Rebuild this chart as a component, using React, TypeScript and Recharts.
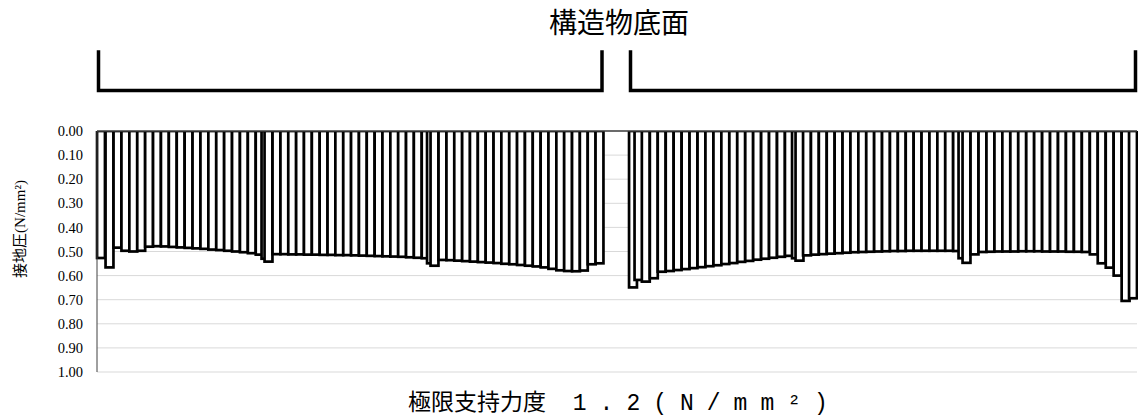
import React from 'react';
import { BarChart, Bar, XAxis, YAxis, CartesianGrid, ReferenceLine } from 'recharts';

// 構造物1 (左側): 測点 [m] と接地圧 [N/mm2]
const stationsA = [
  0.40, 1.25,
  2.05, 2.84, 3.63, 4.42, 5.21, 6.00, 6.79, 7.58, 8.37, 9.16, 9.95, 10.74, 11.53, 12.32, 13.11, 13.90, 14.69, 15.48, 16.27,
  16.85, 17.15,
  17.95, 18.74, 19.52, 20.31, 21.09, 21.88, 22.66, 23.45, 24.23, 25.02, 25.80, 26.59, 27.37, 28.16, 28.94, 29.73, 30.51, 31.30, 32.08, 32.87,
  33.40, 33.75,
  34.55, 35.34, 36.12, 36.91, 37.69, 38.48, 39.26, 40.05, 40.83, 41.62, 42.40, 43.19, 43.97, 44.76, 45.54, 46.33, 47.11, 47.90, 48.68, 49.47, 50.25,
];
const pressureA = [
  0.527, 0.566,
  0.484, 0.497, 0.500, 0.497, 0.480, 0.478, 0.479, 0.481, 0.483, 0.485, 0.487, 0.489, 0.492, 0.494, 0.497, 0.500, 0.503, 0.507, 0.513,
  0.530, 0.542,
  0.511, 0.511, 0.512, 0.512, 0.513, 0.513, 0.514, 0.514, 0.515, 0.515, 0.516, 0.517, 0.518, 0.519, 0.520, 0.521, 0.522, 0.524, 0.526, 0.528,
  0.549, 0.559,
  0.535, 0.536, 0.538, 0.540, 0.542, 0.544, 0.546, 0.548, 0.551, 0.553, 0.556, 0.559, 0.562, 0.566, 0.572, 0.578, 0.581, 0.582, 0.579, 0.553, 0.549,
];

// 構造物2 (右側)
const stationsB = [
  53.60, 54.15,
  54.88, 55.68, 56.47, 57.27, 58.06, 58.86, 59.65, 60.45, 61.24, 62.04, 62.83, 63.63, 64.42, 65.22, 66.01, 66.81, 67.60, 68.40, 69.19,
  69.90, 70.25,
  71.00, 71.79, 72.58, 73.37, 74.16, 74.95, 75.74, 76.53, 77.32, 78.11, 78.90, 79.69, 80.48, 81.27, 82.06, 82.85, 83.64, 84.43, 85.22, 86.01,
  86.55, 86.95,
  87.75, 88.55, 89.34, 90.14, 90.93, 91.73, 92.52, 93.32, 94.11, 94.91, 95.70, 96.50, 97.29, 98.09, 98.88, 99.68, 100.47, 101.27, 102.06, 102.86,
  103.60,
];
const pressureB = [
  0.649, 0.618,
  0.625, 0.611, 0.584, 0.581, 0.577, 0.573, 0.569, 0.565, 0.561, 0.557, 0.552, 0.548, 0.543, 0.539, 0.534, 0.530, 0.526, 0.522, 0.518,
  0.528, 0.538,
  0.516, 0.513, 0.511, 0.509, 0.507, 0.505, 0.503, 0.502, 0.501, 0.500, 0.499, 0.498, 0.498, 0.497, 0.497, 0.497, 0.497, 0.497, 0.497, 0.498,
  0.528, 0.547,
  0.512, 0.502, 0.501, 0.500, 0.500, 0.500, 0.499, 0.499, 0.499, 0.500, 0.500, 0.500, 0.501, 0.501, 0.502, 0.512, 0.549, 0.567, 0.600, 0.705,
  0.694,
];

const yTicks = [0, 0.1, 0.2, 0.3, 0.4, 0.5, 0.6, 0.7, 0.8, 0.9, 1.0];

const TITLE = '構造物底面';
const X_LABEL_JP = '極限支持力度';
const X_LABEL_VALUE = ' 1.2(N/mm²)';
const Y_LABEL = '接地圧(N/mm²)';

const CHART_W = 1138;
const CHART_H = 419;
const MARGIN = { top: 131, right: 1, bottom: 47, left: 37 };
const Y_AXIS_W = 60;
const X_MAX = 104;
const PX_PER_M = (CHART_W - MARGIN.left - Y_AXIS_W - MARGIN.right) / X_MAX;
const BAR_W = 0.79; // m
const BRACKET_PAD = 0.25;
const BRACKET_TOP = -0.335;
const BRACKET_BOTTOM = -0.168;

const data = [
  ...stationsA.map((s, i) => ({ station: s, pressure: pressureA[i] })),
  ...stationsB.map((s, i) => ({ station: s, pressure: pressureB[i] })),
];

const spanA = [Math.min(...stationsA) - BRACKET_PAD, Math.max(...stationsA) + BRACKET_PAD];
const spanB = [Math.min(...stationsB) - BRACKET_PAD, Math.max(...stationsB) + BRACKET_PAD];

// bars hang down from 0 (reversed axis), fixed width centred on the station
const HangingBar = (props: any) => {
  const { x, y, width, height } = props;
  if (x == null || y == null) return null;
  const cx = x + width / 2;
  const w = BAR_W * PX_PER_M;
  const top = Math.min(y, y + height);
  const h = Math.abs(height);
  return <rect x={cx - w / 2} y={top} width={w} height={h} fill="#fff" stroke="#000" strokeWidth={2.7} />;
};

const Bracket = (props: any) => {
  const { x1, y1, x2, y2 } = props;
  return (
    <path
      d={`M${x1},${y1} V${y2} H${x2} V${y1}`}
      fill="none"
      stroke="#000"
      strokeWidth={3.5}
    />
  );
};

export default function App() {
  return (
    <div style={{ position: 'absolute', left: 0, top: 0, width: CHART_W, height: CHART_H, background: '#fff' }}>
      <BarChart
        width={CHART_W}
        height={CHART_H}
        data={data}
        margin={MARGIN}
        barCategoryGap={0}
        barGap={0}
      >
        <CartesianGrid vertical={false} stroke="#d9d9d9" />
        <XAxis dataKey="station" type="number" domain={[0, X_MAX]} hide />
        <YAxis
          type="number"
          reversed
          domain={[0, 1]}
          ticks={yTicks}
          interval={0}
          width={Y_AXIS_W}
          tickFormatter={(v: number) => v.toFixed(2)}
          axisLine={{ stroke: '#404040' }}
          tickLine={false}
          tickMargin={8}
          tick={{ fontFamily: 'Liberation Serif', fontSize: 14.5, fill: '#000' }}
          allowDataOverflow
        />
        <Bar dataKey="pressure" shape={HangingBar} isAnimationActive={false} />
        <ReferenceLine y={0} stroke="#404040" strokeWidth={1.5} />
        <ReferenceLine
          ifOverflow="visible"
          segment={[{ x: spanA[0], y: BRACKET_TOP }, { x: spanA[1], y: BRACKET_BOTTOM }]}
          shape={Bracket}
        />
        <ReferenceLine
          ifOverflow="visible"
          segment={[{ x: spanB[0], y: BRACKET_TOP }, { x: spanB[1], y: BRACKET_BOTTOM }]}
          shape={Bracket}
        />
      </BarChart>
      <svg
        width={CHART_W}
        height={CHART_H}
        style={{ position: 'absolute', left: 0, top: 0, pointerEvents: 'none' }}
      >
        <text x={619} y={33} textAnchor="middle" fontFamily="'Noto Sans CJK JP'" fontSize={28} fill="#000">
          {TITLE}
        </text>
        <text
          x={25}
          y={229}
          transform="rotate(-90 25 229)"
          textAnchor="middle"
          fontFamily="'Liberation Serif', 'Noto Sans CJK JP'"
          fontSize={15}
          fill="#000"
        >
          {Y_LABEL}
        </text>
        <text x={408} y={410} fontSize={23} fill="#000">
          <tspan fontFamily="'Noto Sans CJK JP'">{X_LABEL_JP}</tspan>
          <tspan fontFamily="'Liberation Mono'" letterSpacing={13}>{X_LABEL_VALUE}</tspan>
        </text>
      </svg>
    </div>
  );
}
